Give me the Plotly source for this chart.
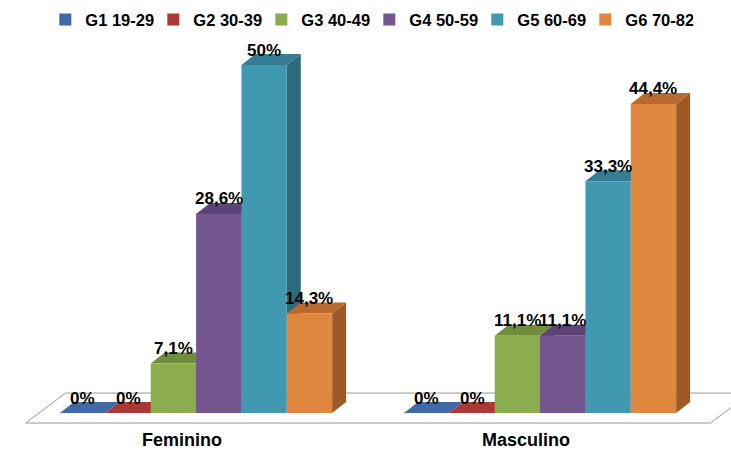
import plotly.graph_objects as go

# Age-group shares (%) by sex
categories = ["Feminino", "Masculino"]
group_names = ["G1 19-29", "G2 30-39", "G3 40-49", "G4 50-59", "G5 60-69", "G6 70-82"]
g1_19_29 = [0.0, 0.0]
g2_30_39 = [0.0, 0.0]
g3_40_49 = [7.1, 11.1]
g4_50_59 = [28.6, 11.1]
g5_60_69 = [50.0, 33.3]
g6_70_82 = [14.3, 44.4]
series = [g1_19_29, g2_30_39, g3_40_49, g4_50_59, g5_60_69, g6_70_82]

# Face colours: front, top (shaded) and right side (darker)
front_colors = ["#3F6AA4", "#A83935", "#8CAD4D", "#74568F", "#4098B1", "#DF873E"]
top_colors = ["#3F6AA4", "#A83935", "#6F8D3B", "#5C4576", "#347D92", "#B96A2E"]
side_colors = ["#2E4F7C", "#7C2A27", "#5F7A31", "#4E3A65", "#2D6A7B", "#9E5A26"]

# Geometry of the pseudo-3D rendering (axis units)
BARGAP = 0.209
DEPTH_X = 0.0407      # horizontal shift of the back face, in category units
DEPTH_Y = 1.58        # vertical shift of the back face, in percent units
FLOOR_PAD_X = 0.10    # floor overhang beyond the outer bars
FLOOR_FRONT = -1.44   # floor front edge (percent units)
FLOOR_BACK = 2.87     # floor back edge (percent units)
FLOOR_SHIFT_X = 0.116 # horizontal shift of the floor back edge

n = len(series)
bar_w = (1 - BARGAP) / n
xpos = list(range(len(categories)))


def fmt(v):
    if float(v).is_integer():
        return f"{int(v)}%"
    return f"{v:.1f}%".replace(".", ",")


fig = go.Figure()
shapes = []
annotations = []

# Floor parallelogram
left = xpos[0] - 0.5 + BARGAP / 2 - FLOOR_PAD_X
right = xpos[-1] + 0.5 - BARGAP / 2 + FLOOR_PAD_X
floor_path = (
    f"M{left},{FLOOR_FRONT} L{right},{FLOOR_FRONT} "
    f"L{right + FLOOR_SHIFT_X},{FLOOR_BACK} L{left + FLOOR_SHIFT_X},{FLOOR_BACK} Z"
)
shapes.append(dict(type="path", path=floor_path, xref="x", yref="y",
                   line=dict(color="#9A9A9A", width=1), fillcolor="white", layer="below"))

for ci, cx in enumerate(xpos):
    for j, (vals, name) in enumerate(zip(series, group_names)):
        v = vals[ci]
        x0 = cx - 0.5 + BARGAP / 2 + j * bar_w
        x1 = x0 + bar_w
        # right side face
        if v > 0:
            side = (f"M{x1},0 L{x1 + DEPTH_X},{DEPTH_Y} L{x1 + DEPTH_X},{v + DEPTH_Y} "
                    f"L{x1},{v} Z")
            shapes.append(dict(type="path", path=side, xref="x", yref="y",
                               line=dict(width=0), fillcolor=side_colors[j], layer="below"))
        # top face
        top = (f"M{x0},{v} L{x1},{v} L{x1 + DEPTH_X},{v + DEPTH_Y} "
               f"L{x0 + DEPTH_X},{v + DEPTH_Y} Z")
        shapes.append(dict(type="path", path=top, xref="x", yref="y",
                           line=dict(width=0), fillcolor=top_colors[j], layer="below"))
        # value label
        annotations.append(dict(x=(x0 + x1) / 2, y=v + DEPTH_Y, xref="x", yref="y",
                                text=fmt(v), showarrow=False, yanchor="middle", yshift=4,
                                font=dict(family="Liberation Sans", size=17, color="black",
                                          weight="bold")))

# Front faces as bars
for j, (vals, name) in enumerate(zip(series, group_names)):
    fig.add_trace(go.Bar(
        x=xpos, y=vals, name=name,
        width=bar_w, offset=-0.5 + BARGAP / 2 + j * bar_w,
        marker=dict(color=front_colors[j], line=dict(width=0)),
        hoverinfo="skip",
    ))

# Category labels
for cx, cat in zip(xpos, categories):
    annotations.append(dict(x=cx, y=0, xref="x", yref="paper", text=cat,
                            showarrow=False, xshift=-14, yanchor="bottom", yshift=0,
                            font=dict(family="Liberation Sans", size=18, color="black",
                                      weight="bold")))

fig.update_layout(
    width=731, height=452,
    margin=dict(l=0, r=0, t=0, b=0),
    paper_bgcolor="white", plot_bgcolor="white",
    barmode="overlay",
    showlegend=True,
    legend=dict(orientation="h", x=0.062, xanchor="left", y=0.956, yanchor="middle",
                font=dict(family="Liberation Sans", size=16.5, color="black", weight="bold"),
                entrywidth=63, itemwidth=30, bgcolor="rgba(0,0,0,0)"),
    xaxis=dict(range=[-0.570, 1.555], showgrid=False, zeroline=False,
               showticklabels=False, showline=False, fixedrange=True),
    yaxis=dict(range=[-5.6, 59.34], showgrid=False, zeroline=False,
               showticklabels=False, showline=False, fixedrange=True),
    shapes=shapes,
    annotations=annotations,
)

fig.write_html("out.html")
